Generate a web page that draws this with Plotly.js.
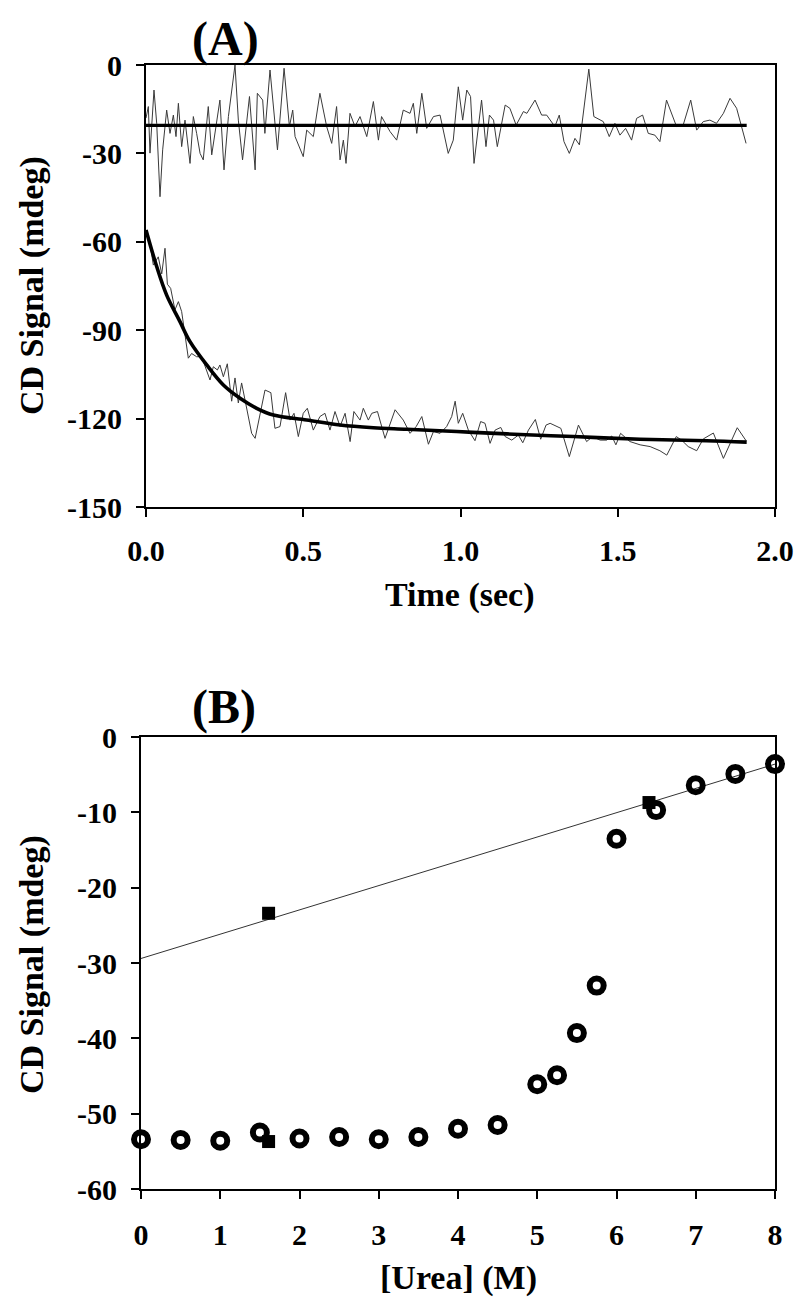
<!DOCTYPE html>
<html>
<head>
<meta charset="utf-8">
<script src="https://cdn.plot.ly/plotly-3.0.1.min.js"></script>
<style>html,body{margin:0;padding:0;background:#fff}#chart{width:800px;height:1309px}</style>
</head>
<body>
<div id="chart"></div>
<script>
// ---------- Panel A data (Time in sec, CD signal in mdeg) ----------
const timeTop = [0,0.0074,0.0127,0.0254,0.034,0.0445,0.053,0.0657,0.0763,0.087,0.0954,0.103,0.1134,0.124,0.140,0.1505,0.161,0.172,0.182,0.198,0.209,0.2194,0.235,0.248,0.262,0.283,0.2936,0.307,0.329,0.347,0.354,0.371,0.378,0.3943,0.405,0.418,0.439,0.456,0.4665,0.474,0.5,0.511,0.532,0.553,0.5745,0.5905,0.606,0.617,0.6275,0.636,0.6486,0.6645,0.6805,0.702,0.723,0.739,0.749,0.776,0.797,0.818,0.8395,0.85,0.861,0.877,0.8925,0.914,0.935,0.961,0.977,0.993,1.007,1.02,1.032,1.043,1.067,1.081,1.092,1.105,1.117,1.142,1.157,1.177,1.2,1.211,1.237,1.258,1.274,1.3,1.314,1.329,1.346,1.364,1.378,1.408,1.424,1.454,1.473,1.491,1.507,1.525,1.544,1.560,1.579,1.597,1.618,1.634,1.655,1.687,1.708,1.732,1.751,1.772,1.793,1.814,1.836,1.857,1.878,1.908];
const cdTop = [-18,-14.1,-29.9,-8.5,-19.8,-44.7,-28.8,-15.3,-23.2,-17.0,-24.3,-13.0,-27.7,-18.7,-33.4,-17.5,-23.2,-30.0,-32.2,-14.1,-30.5,-23.2,-11.9,-35.6,-17.5,0,-18.7,-32.2,-10.7,-35.6,-9.6,-11.9,-23.2,-1.7,-14.1,-28.8,-1.1,-20.9,-15.3,-24.3,-31.1,-22.1,-24.3,-9.6,-20.9,-26.6,-14.1,-32.2,-25.5,-33.4,-16.4,-20.9,-17.5,-24.3,-12.4,-25.5,-17.5,-22.6,-25.5,-15.3,-16.4,-13.0,-23.2,-9.6,-21.5,-17.5,-17.0,-30.0,-25.5,-7.4,-18.7,-8.5,-10.7,-33.4,-11.9,-27.7,-17.0,-18.7,-27.7,-13.6,-14.7,-20.4,-15.8,-16.4,-11.9,-17.0,-17.0,-20.9,-17.0,-26.0,-30.0,-24.9,-27.1,-1.4,-17.5,-19.2,-24.3,-19.8,-23.8,-21.5,-25.5,-18.1,-17.0,-23.2,-23.8,-26.0,-11.9,-20.9,-20.4,-11.9,-22.1,-19.2,-18.7,-19.8,-16.4,-11.3,-14.7,-26.6];
const timeTopFit = [0, 1.91];
const cdTopFit = [-20.5, -20.5];

const timeBot = [0.002,0.0127,0.0233,0.039,0.05,0.0604,0.068,0.0784,0.092,0.103,0.1134,0.124,0.1346,0.145,0.161,0.177,0.193,0.2035,0.214,0.227,0.235,0.246,0.2585,0.2724,0.283,0.2936,0.304,0.32,0.336,0.347,0.3604,0.3784,0.397,0.41,0.4261,0.444,0.458,0.4706,0.4844,0.5,0.513,0.532,0.553,0.569,0.585,0.601,0.617,0.633,0.649,0.661,0.6805,0.691,0.707,0.718,0.736,0.76,0.792,0.818,0.8395,0.859,0.877,0.898,0.914,0.935,0.956,0.972,0.983,0.993,1.007,1.025,1.046,1.064,1.078,1.094,1.110,1.128,1.142,1.163,1.184,1.198,1.216,1.238,1.255,1.272,1.285,1.306,1.319,1.346,1.375,1.401,1.42,1.444,1.465,1.481,1.494,1.509,1.539,1.571,1.603,1.634,1.656,1.686,1.703,1.724,1.751,1.772,1.804,1.836,1.857,1.88,1.908];
const cdBot = [-56,-60.5,-67.9,-65.1,-70.9,-62.2,-74.4,-75.8,-83.1,-80.3,-83.7,-92.2,-99.5,-97.9,-99.0,-99.0,-103.5,-106.9,-102.4,-103.5,-101.8,-105.8,-101.4,-114.1,-106.2,-114.7,-107.9,-115.9,-125.0,-126.7,-119.9,-110.3,-111.2,-123.3,-122.7,-111.2,-120.5,-118.2,-126.1,-118.2,-116.5,-123.9,-119.3,-118.2,-123.9,-117.6,-122.7,-118.2,-127.8,-117.6,-120.5,-116.5,-120.5,-118.2,-117.6,-126.7,-117.0,-120.5,-125.0,-122.7,-119.3,-128.7,-124.4,-125.0,-122.7,-119.3,-114.1,-121.6,-118.2,-123.9,-127.5,-121.0,-121.6,-128.4,-123.9,-123.0,-126.1,-127.3,-125.6,-128.2,-123.9,-120.3,-127.0,-122.2,-121.6,-122.7,-123.3,-132.9,-122.2,-127.8,-126.1,-127.3,-127.3,-125.9,-128.9,-125.0,-127.8,-128.9,-129.5,-130.9,-132.4,-126.1,-127.3,-129.5,-130.9,-126.9,-124.9,-133.5,-128.4,-123.1,-127.5];
const timeBotFit = [0,0.034,0.0657,0.108,0.140,0.193,0.246,0.299,0.352,0.405,0.511,0.617,0.723,0.829,0.988,1.147,1.359,1.571,1.782,1.91];
const cdBotFit = [-56,-68.4,-78.1,-87.1,-93.9,-101.8,-108.6,-113.1,-116.5,-118.8,-120.5,-122.2,-123.1,-123.6,-124.4,-125.2,-126.1,-127.0,-127.5,-128];

const aXTicks = [0, 0.5, 1.0, 1.5, 2.0];
const aXTickText = ['0.0', '0.5', '1.0', '1.5', '2.0'];
const aYTicks = [0, -30, -60, -90, -120, -150];
const aYTickText = ['0', '-30', '-60', '-90', '-120', '-150'];

// ---------- Panel B data ([Urea] in M, CD signal in mdeg) ----------
const ureaCircle = [0,0.5,1,1.5,2,2.5,3,3.5,4,4.5,5,5.25,5.5,5.75,6,6.5,7,7.5,8];
const cdCircle = [-53.4,-53.5,-53.6,-52.5,-53.3,-53.1,-53.4,-53.1,-52.0,-51.5,-46.1,-44.9,-39.3,-33.0,-13.5,-9.7,-6.4,-4.9,-3.6];
const ureaSquare = [1.61, 1.61, 6.41];
const cdSquare = [-23.4, -53.7, -8.7];
const ureaLine = [0, 8];
const cdLine = [-29.4, -3.6];

const bXTicks = [0,1,2,3,4,5,6,7,8];
const bXTickText = ['0','1','2','3','4','5','6','7','8'];
const bYTicks = [0,-10,-20,-30,-40,-50,-60];
const bYTickText = ['0','-10','-20','-30','-40','-50','-60'];

// ---------- figure ----------
const W = 800, H = 1309;
const FONT = 'Liberation Serif, Times New Roman, serif';
const px = v => v / W;
const py = v => 1 - v / H;

const traces = [
  {x: timeTop, y: cdTop, xaxis: 'x', yaxis: 'y', mode: 'lines', line: {color: '#3a3a3a', width: 1}},
  {x: timeTopFit, y: cdTopFit, xaxis: 'x', yaxis: 'y', mode: 'lines', line: {color: '#000', width: 3.2}},
  {x: timeBot, y: cdBot, xaxis: 'x', yaxis: 'y', mode: 'lines', line: {color: '#3a3a3a', width: 1}},
  {x: timeBotFit, y: cdBotFit, xaxis: 'x', yaxis: 'y', mode: 'lines', line: {color: '#000', width: 3.6, shape: 'spline'}},
  {x: ureaLine, y: cdLine, xaxis: 'x2', yaxis: 'y2', mode: 'lines', line: {color: '#333', width: 1}},
  {x: ureaCircle, y: cdCircle, xaxis: 'x2', yaxis: 'y2', mode: 'markers', cliponaxis: false,
   marker: {symbol: 'circle-open', size: 14, color: '#000', line: {color: '#000', width: 6}}},
  {x: ureaSquare, y: cdSquare, xaxis: 'x2', yaxis: 'y2', mode: 'markers', cliponaxis: false,
   marker: {symbol: 'square', size: 13, color: '#000', line: {width: 0}}}
];

const axisCommon = {
  showline: true, linecolor: '#000', linewidth: 2, mirror: true,
  ticks: 'outside', ticklen: 8, tickwidth: 2, tickcolor: '#000',
  showgrid: false, zeroline: false, fixedrange: true,
  tickfont: {family: FONT, size: 30, color: '#000', weight: 'bold'},
  tickmode: 'array'
};

const layout = {
  width: W, height: H,
  margin: {l: 0, r: 0, t: 0, b: 0},
  paper_bgcolor: '#fff', plot_bgcolor: '#fff',
  showlegend: false,
  xaxis: Object.assign({}, axisCommon, {domain: [px(146), px(775)], range: [0, 2], anchor: 'y',
    tickvals: aXTicks, ticktext: aXTickText, ticklabelstandoff: 8}),
  yaxis: Object.assign({}, axisCommon, {domain: [py(507), py(65)], range: [-150, 0], anchor: 'x',
    tickvals: aYTicks, ticktext: aYTickText, ticklabelstandoff: 8}),
  xaxis2: Object.assign({}, axisCommon, {domain: [px(141), px(775)], range: [0, 8], anchor: 'y2',
    tickvals: bXTicks, ticktext: bXTickText, ticklabelstandoff: 10}),
  yaxis2: Object.assign({}, axisCommon, {domain: [py(1189), py(737)], range: [-60, 0], anchor: 'x2',
    tickvals: bYTicks, ticktext: bYTickText, ticklabelstandoff: 8}),
  annotations: [
    {text: '(A)', x: px(225), y: py(39), xref: 'paper', yref: 'paper', showarrow: false,
     xanchor: 'center', yanchor: 'middle', font: {family: FONT, size: 48, color: '#000', weight: 'bold'}},
    {text: '(B)', x: px(224), y: py(707), xref: 'paper', yref: 'paper', showarrow: false,
     xanchor: 'center', yanchor: 'middle', font: {family: FONT, size: 48, color: '#000', weight: 'bold'}},
    {text: 'Time (sec)', x: px(460), y: py(595), xref: 'paper', yref: 'paper', showarrow: false,
     xanchor: 'center', yanchor: 'middle', font: {family: FONT, size: 34, color: '#000', weight: 'bold'}},
    {text: '[Urea] (M)', x: px(458), y: py(1278), xref: 'paper', yref: 'paper', showarrow: false,
     xanchor: 'center', yanchor: 'middle', font: {family: FONT, size: 34, color: '#000', weight: 'bold'}},
    {text: 'CD Signal (mdeg)', x: px(32), y: py(286), xref: 'paper', yref: 'paper', showarrow: false,
     textangle: -90, xanchor: 'center', yanchor: 'middle', font: {family: FONT, size: 34, color: '#000', weight: 'bold'}},
    {text: 'CD Signal (mdeg)', x: px(32), y: py(965), xref: 'paper', yref: 'paper', showarrow: false,
     textangle: -90, xanchor: 'center', yanchor: 'middle', font: {family: FONT, size: 34, color: '#000', weight: 'bold'}}
  ]
};

Plotly.newPlot('chart', traces, layout, {displayModeBar: false, staticPlot: true});
</script>
</body>
</html>
